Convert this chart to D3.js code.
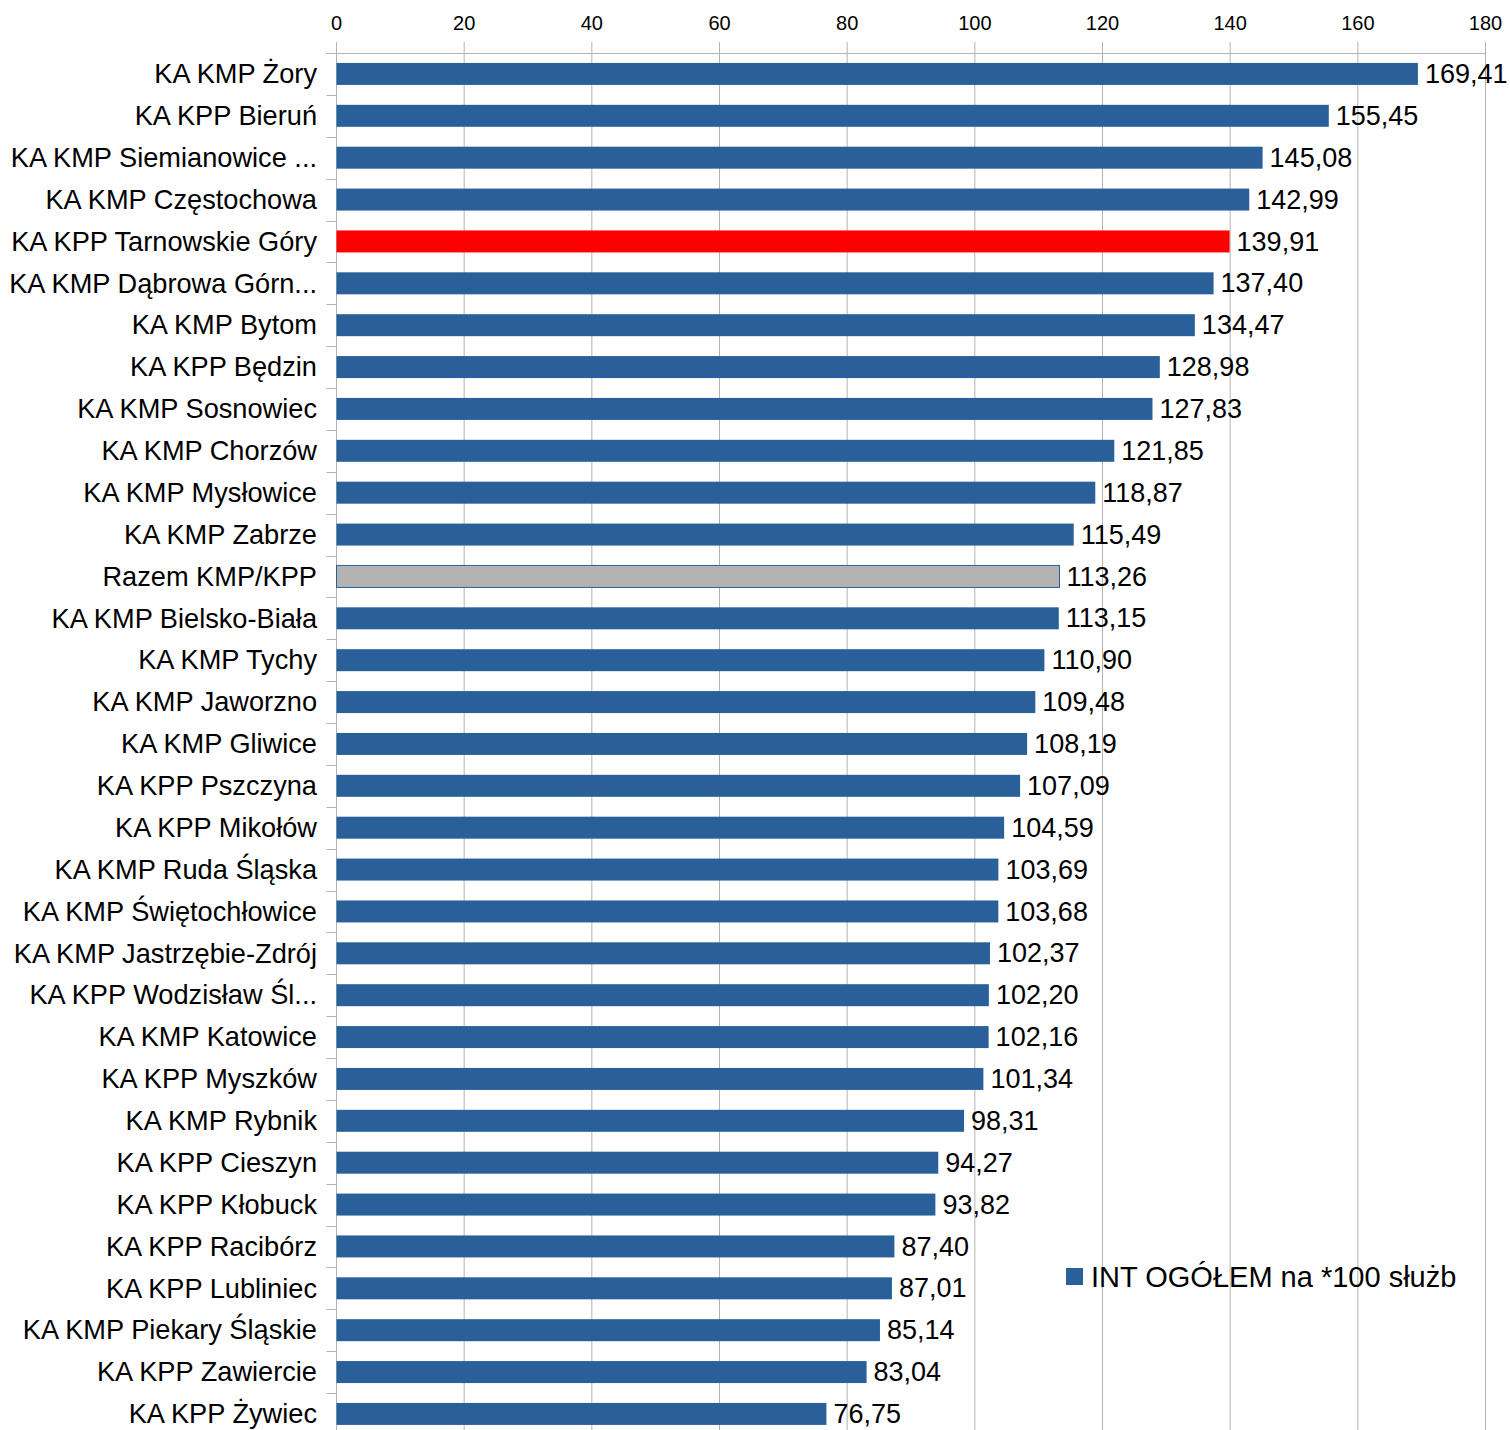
<!DOCTYPE html>
<html><head><meta charset="utf-8">
<script src="https://cdn.jsdelivr.net/npm/d3@7"></script>
<style>body{margin:0;background:#fff}svg{display:block;font-family:"Liberation Sans",Arial,sans-serif}</style>
</head><body><svg id="c" width="1510" height="1430"></svg>
<script>
const categories = ["KA KMP Żory","KA KPP Bieruń","KA KMP Siemianowice ...","KA KMP Częstochowa","KA KPP Tarnowskie Góry","KA KMP Dąbrowa Górn...","KA KMP Bytom","KA KPP Będzin","KA KMP Sosnowiec","KA KMP Chorzów","KA KMP Mysłowice","KA KMP Zabrze","Razem KMP/KPP","KA KMP Bielsko-Biała","KA KMP Tychy","KA KMP Jaworzno","KA KMP Gliwice","KA KPP Pszczyna","KA KPP Mikołów","KA KMP Ruda Śląska","KA KMP Świętochłowice","KA KMP Jastrzębie-Zdrój","KA KPP Wodzisław Śl...","KA KMP Katowice","KA KPP Myszków","KA KMP Rybnik","KA KPP Cieszyn","KA KPP Kłobuck","KA KPP Racibórz","KA KPP Lubliniec","KA KMP Piekary Śląskie","KA KPP Zawiercie","KA KPP Żywiec"];
const values = [169.41,155.45,145.08,142.99,139.91,137.40,134.47,128.98,127.83,121.85,118.87,115.49,113.26,113.15,110.90,109.48,108.19,107.09,104.59,103.69,103.68,102.37,102.20,102.16,101.34,98.31,94.27,93.82,87.40,87.01,85.14,83.04,76.75];
const xTicks = [0,20,40,60,80,100,120,140,160,180];
const seriesName = "INT OGÓŁEM na *100 służb";
const highlight = {"KA KPP Tarnowskie Góry":"red","Razem KMP/KPP":"total"};

const svg = d3.select("#c");
const pLeft = 336.5, pRight = 1485.5, pTop = 53, bandH = 41.875;
const x = d3.scaleLinear().domain([0,180]).range([pLeft,pRight]);
const y = d3.scaleBand().domain(categories).range([pTop, pTop + bandH*categories.length]).paddingInner(0.475).paddingOuter(0.2375);
const fmt = v => v.toFixed(2).replace(".", ",");

svg.append("g").selectAll("line").data(xTicks).join("line")
  .attr("x1", d=>x(d)).attr("x2", d=>x(d)).attr("y1", pTop-11).attr("y2", 1430)
  .attr("stroke","#b3b3b3").attr("stroke-width",1);
svg.append("line").attr("x1", pLeft-10).attr("x2", pRight).attr("y1", pTop+0.5).attr("y2", pTop+0.5).attr("stroke","#b3b3b3");
svg.append("g").selectAll("text").data(xTicks).join("text")
  .attr("x", d=>x(d)).attr("y", 30).attr("text-anchor","middle")
  .attr("font-size", 20).attr("fill","#000").text(d=>d);
const bounds = d3.range(categories.length+1).map(i => pTop + i*bandH);
svg.append("g").selectAll("line").data(bounds).join("line")
  .attr("x1", pLeft-10).attr("x2", pLeft).attr("y1", d=>Math.round(d)+0.5).attr("y2", d=>Math.round(d)+0.5)
  .attr("stroke","#b3b3b3");
svg.append("g").selectAll("rect").data(categories).join("rect")
  .attr("x", x(0)).attr("y", d=>y(d)).attr("height", y.bandwidth())
  .attr("width", (d,i)=>x(values[i])-x(0))
  .attr("fill", d=> highlight[d]==="red" ? "#ff0000" : highlight[d]==="total" ? "#b3b3b3" : "#2a6099")
  .attr("stroke", d=> highlight[d]==="total" ? "#2a6099" : "none").attr("stroke-width",1);
svg.append("g").selectAll("text").data(categories).join("text")
  .attr("x", 317).attr("y", d=>y(d)+y.bandwidth()/2).attr("dy","0.34em")
  .attr("text-anchor","end").attr("font-size", 27.2).attr("fill","#000").text(d=>d);
svg.append("g").selectAll("text").data(categories).join("text")
  .attr("x", (d,i)=>x(values[i])+7).attr("y", d=>y(d)+y.bandwidth()/2).attr("dy","0.34em")
  .attr("font-size", 27).attr("fill","#000").text((d,i)=>fmt(values[i]));
svg.append("rect").attr("x",1066).attr("y",1268).attr("width",17).attr("height",17).attr("fill","#2a6099");
svg.append("text").attr("x",1091).attr("y",1277).attr("dy","0.34em").attr("font-size",29).attr("fill","#000").text(seriesName);
</script></body></html>
